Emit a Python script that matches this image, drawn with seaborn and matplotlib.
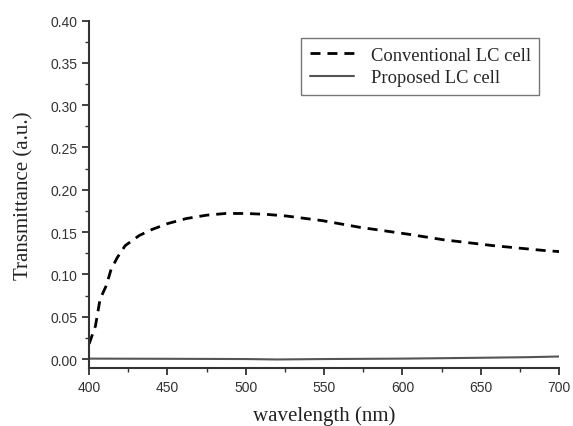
import numpy as np
import pandas as pd
import matplotlib.pyplot as plt
import seaborn as sns
from matplotlib.ticker import MultipleLocator

# Values
wavelength_conv = [400, 404, 407, 411, 414, 418, 423, 432, 440, 450, 462, 475, 487,
                   500, 513, 526, 549, 573, 603, 626, 658, 692, 700]
trans_conv = [0.018, 0.039, 0.071, 0.087, 0.106, 0.120, 0.134, 0.146, 0.153, 0.160,
              0.166, 0.170, 0.172, 0.172, 0.171, 0.169, 0.1635, 0.1556, 0.1477,
              0.141, 0.134, 0.128, 0.127]

wavelength_prop = [400, 450, 500, 520, 550, 600, 650, 680, 700]
trans_prop = [0.0005, 0.0003, 0.0, -0.0005, 0.0, 0.0005, 0.0015, 0.0022, 0.003]

sns.set_style("ticks")

fig = plt.figure(figsize=(5.73, 4.27), dpi=100)
ax = fig.add_axes([0.1556, 0.1358, 0.82, 0.8138])

df_conv = pd.DataFrame({"wavelength": wavelength_conv, "T": trans_conv})
df_prop = pd.DataFrame({"wavelength": wavelength_prop, "T": trans_prop})

sns.lineplot(data=df_conv, x="wavelength", y="T", ax=ax, color="black",
             linewidth=2.0, linestyle=(0, (3.6, 2.5)), label="Conventional LC cell")
sns.lineplot(data=df_prop, x="wavelength", y="T", ax=ax, color="#555555",
             linewidth=1.5, label="Proposed LC cell")

ax.set_xlim(400, 700)
ax.set_ylim(-0.0106, 0.40)
ax.xaxis.set_major_locator(MultipleLocator(50))
ax.xaxis.set_minor_locator(MultipleLocator(25))
ax.yaxis.set_major_locator(MultipleLocator(0.05))
ax.yaxis.set_minor_locator(MultipleLocator(0.025))
ax.set_yticks(np.arange(0, 0.401, 0.05))
ax.yaxis.set_major_formatter(plt.FormatStrFormatter("%.2f"))

sns.despine(ax=ax)
for s in ["left", "bottom"]:
    ax.spines[s].set_linewidth(1.5)
    ax.spines[s].set_color("#333333")
ax.spines["left"].set_bounds(-0.0106, 0.40)

ax.tick_params(axis="both", which="major", direction="out", length=5, width=1.3,
               colors="#333333", labelsize=10)
ax.tick_params(axis="both", which="minor", direction="out", length=3, width=1.0,
               colors="#333333")
for lab in ax.get_xticklabels() + ax.get_yticklabels():
    lab.set_family("Liberation Sans")

ax.set_xlabel("wavelength (nm)", family="Liberation Serif", fontsize=15,
              color="#222222", labelpad=8)
ax.set_ylabel("Transmittance (a.u.)", family="Liberation Serif", fontsize=15,
              color="#222222", labelpad=12)

leg = ax.legend(loc="upper right", bbox_to_anchor=(0.977, 0.975), frameon=True, fancybox=False,
                edgecolor="#555555", prop={"family": "Liberation Serif", "size": 13.3},
                handlelength=2.4, handletextpad=0.9, borderpad=0.45, labelspacing=0.3)
leg.get_frame().set_linewidth(1.0)

fig.savefig("out.png", dpi=100)
